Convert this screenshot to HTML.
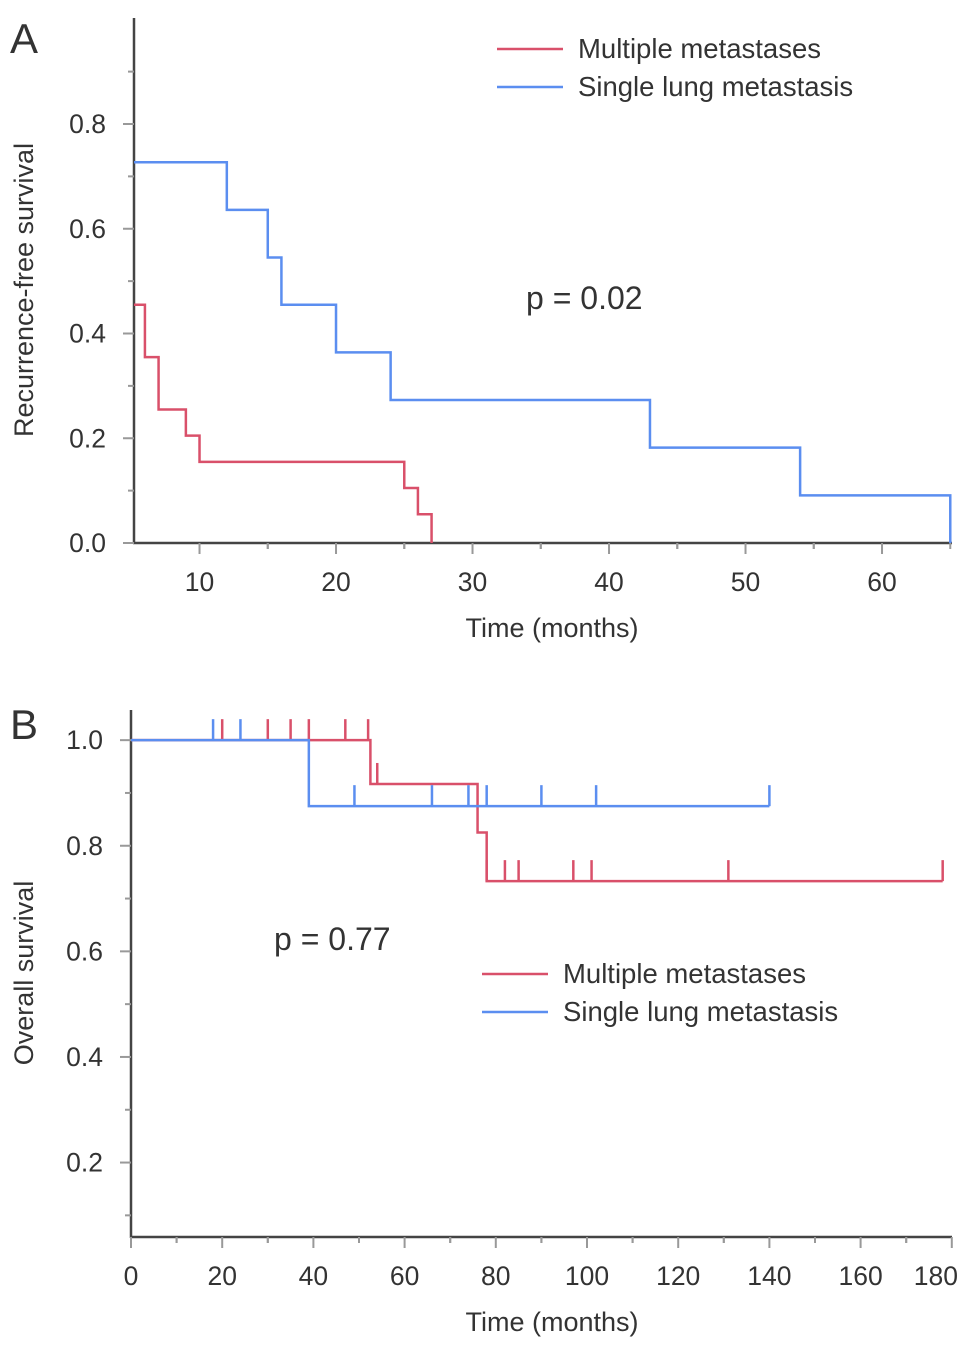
<!DOCTYPE html>
<html><head><meta charset="utf-8">
<style>
html,body{margin:0;padding:0;background:#fff;}
svg{display:block;font-family:"Liberation Sans",sans-serif;}
text{fill:#333;}
</style></head>
<body>
<svg id="chart" width="969" height="1350" viewBox="0 0 969 1350"></svg>
<script>
// Panel A data (recurrence-free survival)
const aRedTimes = [6, 7, 9, 10, 25, 26, 27];
const aRedSurv = [0.455, 0.355, 0.255, 0.205, 0.155, 0.105, 0.055, 0];
const aBlueTimes = [12, 15, 16, 20, 24, 43, 54, 65];
const aBlueSurv = [0.727, 0.636, 0.545, 0.455, 0.364, 0.273, 0.182, 0.091, 0];
const aXTicks = [10, 20, 30, 40, 50, 60];
const aYTicks = [0.0, 0.2, 0.4, 0.6, 0.8];
// Panel B data (overall survival)
const bRedTimes = [52.5, 76, 78];
const bRedSurv = [1.0, 0.917, 0.825, 0.733];
const bRedEnd = 178;
const bRedCensor = [20, 30, 35, 39, 47, 52, 54, 78, 82, 85, 97, 101, 131, 178];
const bBlueTimes = [39];
const bBlueSurv = [1.0, 0.875];
const bBlueEnd = 140;
const bBlueCensor = [18, 24, 49, 66, 74, 78, 90, 102, 140];
const bXTicks = [0, 20, 40, 60, 80, 100, 120, 140, 160, 180];
const bYTicks = [0.2, 0.4, 0.6, 0.8, 1.0];

const RED = "#d9506a", BLUE = "#5b8ef0";
const svg = document.getElementById('chart');
const NS = "http://www.w3.org/2000/svg";
function mk(tag, attrs, parent){const e=document.createElementNS(NS,tag);for(const k in attrs)e.setAttribute(k,attrs[k]);(parent||svg).appendChild(e);return e;}

function survAt(times, surv, t){let i=0;while(i<times.length && t>=times[i])i++;return surv[i];}

function panel(cfg){
  const g = mk('g',{});
  
  
  const X = v => cfg.x0 + (v - cfg.xmin) * cfg.xs;
  const Y = v => cfg.y0 - (v - cfg.ymin) * cfg.ys;
  const ya = mk('line',{x1:cfg.x0,y1:cfg.ytop,x2:cfg.x0,y2:cfg.y0+1,stroke:'#444','stroke-width':2.5},g);
   
  const xa = mk('line',{x1:cfg.x0-1,y1:cfg.y0,x2:cfg.xright,y2:cfg.y0,stroke:'#444','stroke-width':2.5},g);
   
  cfg.yTicks.forEach((v,i)=>{
    mk('line',{x1:cfg.x0-11,y1:Y(v),x2:cfg.x0,y2:Y(v),stroke:'#999','stroke-width':2},g);
    const m=v+cfg.yStep/2; if(Y(m)>cfg.ytop+5) mk('line',{x1:cfg.x0-6,y1:Y(m),x2:cfg.x0,y2:Y(m),stroke:'#999','stroke-width':2},g);
    if(i===0 && cfg.yTicks[0]-cfg.yStep/2>cfg.ymin) mk('line',{x1:cfg.x0-6,y1:Y(v-cfg.yStep/2),x2:cfg.x0,y2:Y(v-cfg.yStep/2),stroke:'#999','stroke-width':2},g);
    const t=mk('text',{x:cfg.x0-28,y:Y(v)+9,'text-anchor':'end','font-size':26.5},g);
    t.textContent=v.toFixed(1);
     
  });
  cfg.xTicks.forEach((v,i)=>{
    mk('line',{x1:X(v),y1:cfg.y0,x2:X(v),y2:cfg.y0+11,stroke:'#999','stroke-width':2},g);
    const m=v+cfg.xStep/2; if(X(m)<cfg.xright) mk('line',{x1:X(m),y1:cfg.y0,x2:X(m),y2:cfg.y0+6,stroke:'#999','stroke-width':2},g);
    const m2=v-cfg.xStep/2; if(X(m2)>cfg.x0) mk('line',{x1:X(m2),y1:cfg.y0,x2:X(m2),y2:cfg.y0+6,stroke:'#999','stroke-width':2},g);
    const last = X(v)+28>969;
    const t=mk('text',{x:last?958:X(v),y:cfg.y0+48,'text-anchor':last?'end':'middle','font-size':26.5},g);
    t.textContent=v;
     
  });
  cfg.series.forEach(s=>{
    let d=`M${X(cfg.xmin)},${Y(s.surv[0])}`;
    s.times.forEach((t,i)=>{d+=` H${X(t)} V${Y(s.surv[i+1])}`;});
    if(s.end!==undefined) d+=` H${X(s.end)}`;
    const p=mk('path',{d:d,fill:'none',stroke:s.color,'stroke-width':2.5},g);
     
    (s.censor||[]).forEach(c=>{
      const yv=Y(survAt(s.times,s.surv,c));
      const cm=mk('line',{x1:X(c),y1:yv-21,x2:X(c),y2:yv,stroke:s.color,'stroke-width':2.5},g);
       
    });
  });
  const xt=mk('text',{x:552,y:cfg.y0+94,'text-anchor':'middle','font-size':27},g);
  xt.textContent='Time (months)';  
  const yt=mk('text',{x:0,y:0,'text-anchor':'middle','font-size':27,transform:`translate(${cfg.ytx},${cfg.yty}) rotate(-90)`},g);
  yt.textContent=cfg.ytitle;  
  const pl=mk('text',{x:cfg.px,y:cfg.py,'font-size':32},g);
  pl.textContent=cfg.plabel;  
  const lab=mk('text',{x:cfg.lx,y:cfg.ly,'font-size':42},g);
  lab.textContent=cfg.letter;  
  [['Multiple metastases',RED],['Single lung metastasis',BLUE]].forEach((e,i)=>{
    const ly=cfg.legY+i*38;
    const le=mk('g',{},g);
     
    mk('line',{x1:cfg.legX,y1:ly,x2:cfg.legX+66,y2:ly,stroke:e[1],'stroke-width':2.5},le);
    const tt=mk('text',{x:cfg.legX+81,y:ly+9,'font-size':27.5},le); tt.textContent=e[0];
  });
}

panel({name:'panel-a',x0:134,y0:543,ytop:18,xright:952,xmin:5.2,xs:13.65,ymin:0,ys:523.75,
  xTicks:aXTicks,xStep:10,yTicks:aYTicks,yStep:0.2,ytitle:'Recurrence-free survival',ytx:33,yty:290,
  px:526,py:309,plabel:'p = 0.02',lx:10,ly:53,letter:'A',legX:497,legY:49,
  series:[{name:'multiple-metastases-line',color:RED,times:aRedTimes,surv:aRedSurv},
          {name:'single-lung-metastasis-line',color:BLUE,times:aBlueTimes,surv:aBlueSurv}]});

panel({name:'panel-b',x0:131,y0:1237,ytop:710,xright:952,xmin:0,xs:4.56,ymin:0.059,ys:528,
  xTicks:bXTicks,xStep:20,yTicks:bYTicks,yStep:0.2,ytitle:'Overall survival',ytx:33,yty:973,
  px:274,py:950,plabel:'p = 0.77',lx:10,ly:739,letter:'B',legX:482,legY:974,
  series:[{name:'multiple-metastases-line',color:RED,times:bRedTimes,surv:bRedSurv,end:bRedEnd,censor:bRedCensor},
          {name:'single-lung-metastasis-line',color:BLUE,times:bBlueTimes,surv:bBlueSurv,end:bBlueEnd,censor:bBlueCensor}]});
</script>
</body></html>
